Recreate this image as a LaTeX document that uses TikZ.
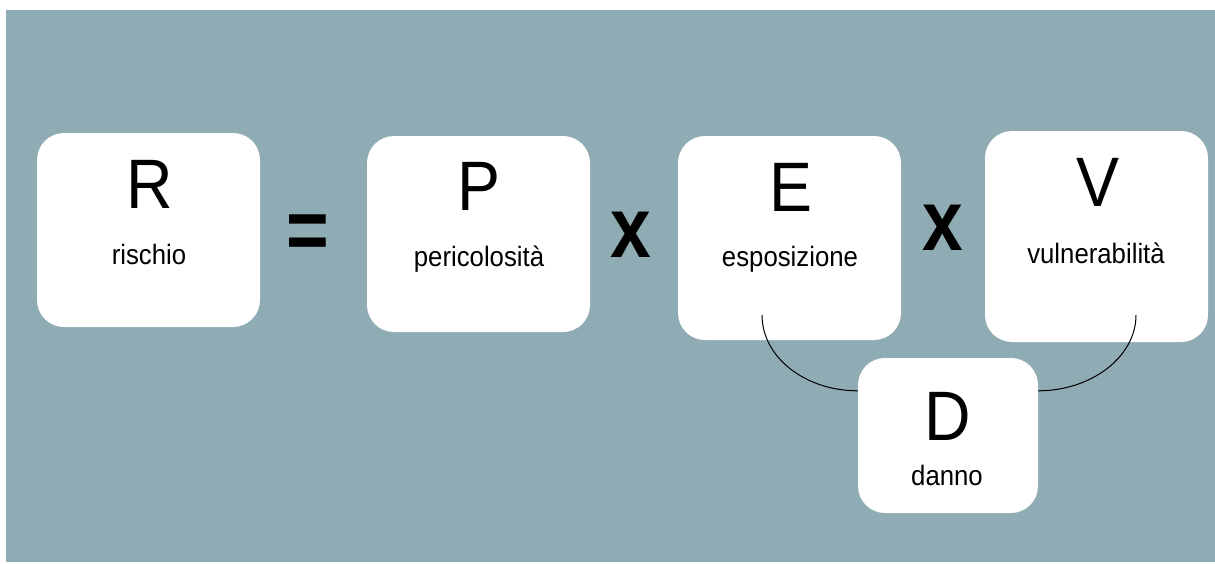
\documentclass[tikz,border=0pt]{standalone}
\usepackage{fontspec}
\newfontfamily\labfont[FakeStretch=0.92]{Liberation Sans}
\newfontfamily\opfont[FakeStretch=0.85]{Liberation Sans}
\usetikzlibrary{calc}
\definecolor{panel}{RGB}{143,171,179}
\begin{document}
\begin{tikzpicture}[x=1pt,y=-1pt,
  card/.style={fill=white, draw=none, rounded corners=27pt, inner sep=0pt},
  bigletter/.style={font=\labfont\fontsize{70}{70}\selectfont, anchor=base, inner sep=0pt},
  word/.style={font=\labfont\fontsize{28}{28}\selectfont, anchor=base, inner sep=0pt},
  oper/.style={font=\opfont\bfseries\fontsize{86}{86}\selectfont, inner sep=0pt},
  link/.style={draw=black, line width=1pt}]
  \useasboundingbox (0,0) rectangle (1215,563);
  \fill[panel] (6,10) rectangle (1215,562);

  % cards
  \node[card, minimum width=223, minimum height=194] (R) at (148.5,230) {};
  \node[card, minimum width=223, minimum height=196] (P) at (478.5,234) {};
  \node[card, minimum width=223, minimum height=204] (E) at (789.5,238) {};
  \node[card, minimum width=223, minimum height=211] (V) at (1096.5,236.5) {};
  \node[card, minimum width=180, minimum height=155] (D) at (948,435.5) {};

  % symbols and names
  \node[bigletter] (Rl) at (150,208) {R};
  \node[word] (Rw) at (149,264) {rischio};
  \node[bigletter] (Pl) at (479,210) {P};
  \node[word] (Pw) at (479,266) {pericolosità};
  \node[bigletter] (El) at (791,211) {E};
  \node[word] (Ew) at (790,266) {esposizione};
  \node[bigletter] (Vl) at (1097.5,206) {V};
  \node[word] (Vw) at (1096,263) {vulnerabilità};
  \node[bigletter] (Dl) at (947.5,440) {D};
  \node[word] (Dw) at (947,485) {danno};

  % operators
  \node[oper] (eq) at (307.5,237.5) {=};
  \node[oper] (x1) at (631,234.5) {x};
  \node[oper] (x2) at (943,227.5) {x};

  % links from exposure and vulnerability to damage
  \coordinate (eS) at (762,315);
  \coordinate (vS) at (1136,315);
  \coordinate (dW) at ($(D.north west)+(0,33)$);
  \coordinate (dE) at ($(D.north east)+(0,33)$);
  \draw[link] (eS) .. controls ($(eS)+(0,42)$) and ($(dW)+(-53,0)$) .. (dW);
  \draw[link] (dE) .. controls ($(dE)+(53,0)$) and ($(vS)+(0,42)$) .. (vS);
\end{tikzpicture}
\end{document}
